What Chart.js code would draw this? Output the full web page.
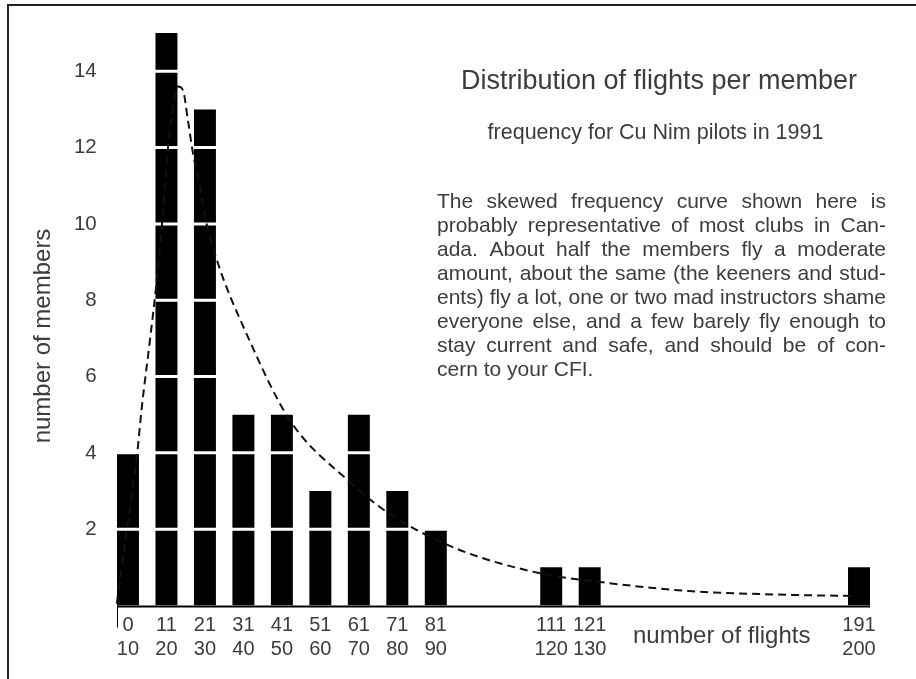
<!DOCTYPE html>
<html>
<head>
<meta charset="utf-8">
<script src="https://cdn.jsdelivr.net/npm/chart.js@4.4.1/dist/chart.umd.min.js"></script>
<style>
html, body { margin: 0; padding: 0; background: #fff; }
#contenedor { position: relative; width: 916px; height: 679px; }
</style>
</head>
<body>
<div id="contenedor"><canvas id="chartVuelos"></canvas></div>
<script>
// datos
const categorias = ['0-10', '11-20', '21-30', '31-40', '41-50', '51-60', '61-70', '71-80', '81-90', '91-100',
    '101-110', '111-120', '121-130', '131-140', '141-150', '151-160', '161-170', '171-180', '181-190', '191-200'];
const miembros = [4, 15, 13, 5, 5, 3, 5, 3, 2, 0, 0, 1, 1, 0, 0, 0, 0, 0, 0, 1];
const curvaVuelos = [2.6, 5.2, 7.8, 9.1, 11.2, 12.8, 14.6, 15.9, 16.7, 18.5, 19.8, 21.1, 22.4, 24.2, 25.5,
    28.6, 36.4, 47.6, 62.4, 72.8, 89.9, 112.3, 127.8, 151.2, 177.2, 193.8];
const curvaMiembros = [0.05, 2.0, 3.9, 5.2, 6.95, 8.35, 10.3, 12.0, 12.7, 13.6, 13.5, 12.7, 11.85, 11.0, 10.2,
    9.05, 7.1, 4.85, 3.3, 2.45, 1.53, 0.85, 0.62, 0.38, 0.28, 0.25];
const ticksY = [2, 4, 6, 8, 10, 12, 14];

const titulo = 'Distribution of flights per member';
const subtitulo = 'frequency for Cu Nim pilots in 1991';
const parrafo = [
    'The skewed frequency curve shown here is',
    'probably representative of most clubs in Can-',
    'ada. About half the members fly a moderate',
    'amount, about the same (the keeners and stud-',
    'ents) fly a lot, one or two mad instructors shame',
    'everyone else, and a few barely fly enough to',
    'stay current and safe, and should be of con-',
    'cern to your CFI.'
];
const tituloX = 'number of flights';
const tituloY = 'number of members';

const fuente = '"Liberation Sans", Arial, sans-serif';
const colorTexto = '#3c3c3c';

const decoracion = {
    id: 'decoracion',
    beforeDraw: (chart) => {
        const ctx = chart.ctx;
        ctx.save();
        ctx.fillStyle = '#fff';
        ctx.fillRect(0, 0, chart.width, chart.height);
        // marco
        ctx.strokeStyle = '#222';
        ctx.lineWidth = 2;
        ctx.beginPath();
        ctx.moveTo(8, chart.height);
        ctx.lineTo(8, 5);
        ctx.lineTo(chart.width, 5);
        ctx.stroke();
        ctx.restore();
    },
    afterDatasetDraw: (chart, args) => {
        if (args.index !== 0) return;
        // lineas blancas sobre las barras
        const ctx = chart.ctx;
        const area = chart.chartArea;
        const y = chart.scales.y;
        ctx.save();
        ctx.strokeStyle = '#fff';
        ctx.lineWidth = 3;
        ticksY.forEach(v => {
            const py = y.getPixelForValue(v);
            ctx.beginPath();
            ctx.moveTo(area.left, py);
            ctx.lineTo(area.right, py);
            ctx.stroke();
        });
        ctx.restore();
    },
    afterDatasetsDraw: (chart) => {
        const ctx = chart.ctx;
        const barras = chart.getDatasetMeta(0).data;
        const primera = barras[0];
        const ultima = barras[barras.length - 1];
        const izq = primera.x - primera.width / 2;
        const der = ultima.x + ultima.width / 2;
        const y0 = chart.scales.y.getPixelForValue(0);
        ctx.save();
        ctx.strokeStyle = '#000';
        ctx.lineWidth = 2;
        ctx.beginPath();
        ctx.moveTo(izq, y0 + 1);
        ctx.lineTo(der, y0 + 1);
        ctx.stroke();
        ctx.lineWidth = 1;
        ctx.beginPath();
        ctx.moveTo(Math.round(izq) + 0.5, y0);
        ctx.lineTo(Math.round(izq) + 0.5, y0 + 22);
        ctx.stroke();
        ctx.restore();
    },
    afterDraw: (chart) => {
        const ctx = chart.ctx;
        ctx.save();
        ctx.fillStyle = colorTexto;
        ctx.textBaseline = 'alphabetic';

        ctx.textAlign = 'center';
        ctx.font = `27px ${fuente}`;
        ctx.fillText(titulo, 659, 89);
        ctx.font = `21.5px ${fuente}`;
        ctx.fillText(subtitulo, 655.5, 138.5);

        // parrafo justificado
        ctx.textAlign = 'left';
        ctx.font = `21px ${fuente}`;
        const izq = 437, der = 886;
        parrafo.forEach((linea, i) => {
            const yy = 208 + i * 24;
            if (i === parrafo.length - 1) {
                ctx.fillText(linea, izq, yy);
                return;
            }
            const palabras = linea.split(' ');
            const anchos = palabras.map(p => ctx.measureText(p).width);
            const total = anchos.reduce((a, b) => a + b, 0);
            const hueco = (der - izq - total) / (palabras.length - 1);
            let x = izq;
            palabras.forEach((p, j) => {
                ctx.fillText(p, x, yy);
                x += anchos[j] + hueco;
            });
        });

        ctx.font = `24px ${fuente}`;
        ctx.fillText(tituloX, 633, 643);

        ctx.translate(50, 336);
        ctx.rotate(-Math.PI / 2);
        ctx.textAlign = 'center';
        ctx.font = `24px ${fuente}`;
        ctx.fillText(tituloY, 0, 0);
        ctx.restore();
    }
};

const chartVuelos = new Chart(document.getElementById('chartVuelos').getContext('2d'), {
    type: 'bar',
    data: {
        labels: categorias,
        datasets: [{
            type: 'bar',
            label: 'miembros',
            data: miembros,
            backgroundColor: '#000',
            borderWidth: 0,
            grouped: false,
            categoryPercentage: 1,
            barPercentage: 0.5714,
            order: 2
        }, {
            type: 'line',
            label: 'curva',
            data: curvaVuelos.map((v, i) => ({ x: v, y: curvaMiembros[i] })),
            xAxisID: 'x2',
            borderColor: '#111',
            borderWidth: 2,
            borderDash: [8, 5],
            pointRadius: 0,
            fill: false,
            tension: 0.4,
            cubicInterpolationMode: 'monotone',
            order: 1
        }]
    },
    options: {
        maintainAspectRatio: false,
        responsive: true,
        animation: false,
        events: [],
        layout: {
            padding: { left: 0, right: 37.75, top: 3.75, bottom: 0 }
        },
        plugins: {
            legend: { display: false },
            tooltip: { enabled: false }
        },
        scales: {
            x: {
                type: 'category',
                offset: true,
                grid: { display: false, drawTicks: false },
                border: { display: false },
                ticks: {
                    autoSkip: false,
                    maxRotation: 0,
                    minRotation: 0,
                    padding: 8,
                    color: colorTexto,
                    font: { family: fuente, size: 20 },
                    callback: (valor, i) => miembros[i] > 0 ? categorias[i].split('-') : ''
                },
                afterFit: (escala) => { escala.height = 73.5; }
            },
            x2: {
                type: 'linear',
                display: false,
                offset: false,
                grid: { offset: false },
                min: 0.5,
                max: 200.5
            },
            y: {
                min: 0,
                max: 15.23,
                grid: { display: false, drawTicks: false },
                border: { display: false },
                ticks: {
                    stepSize: 2,
                    padding: 12,
                    color: colorTexto,
                    font: { family: fuente, size: 20.5 },
                    callback: (valor) => ticksY.includes(valor) ? valor : ''
                },
                afterFit: (escala) => { escala.width = 108.75; }
            }
        }
    },
    plugins: [decoracion]
});
</script>
</body>
</html>
